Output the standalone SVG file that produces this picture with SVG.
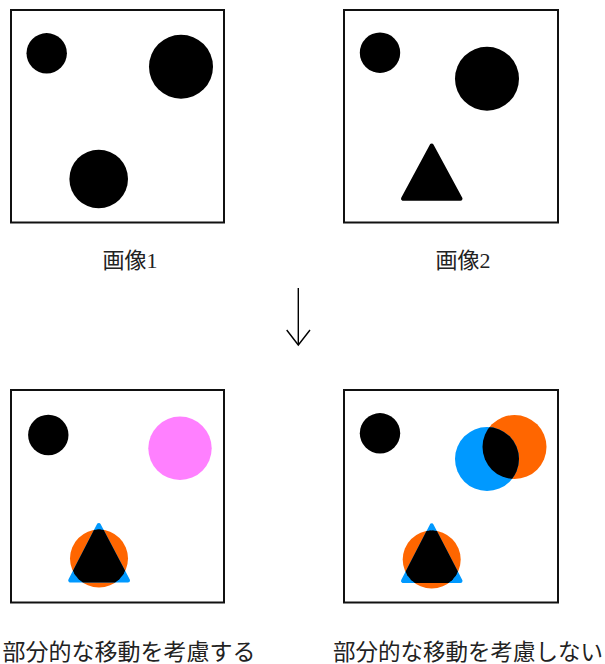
<svg xmlns="http://www.w3.org/2000/svg" width="605" height="664" viewBox="0 0 605 664">
<style>
.frame{fill:#fff;stroke:#111;stroke-width:2}
.blk{fill:#000}
.tri{stroke-linejoin:round;stroke-width:4}
.lbl{font-family:"Liberation Serif","Noto Sans CJK JP",serif;fill:#222;text-anchor:middle}
.org{fill:#ff6600}
.blu{fill:#0099ff}
</style>
<defs>
<clipPath id="c3"><circle cx="99" cy="558.5" r="29"/></clipPath>
<clipPath id="c4t"><circle cx="431.7" cy="559.5" r="29"/></clipPath>
<clipPath id="c4c"><circle cx="514.5" cy="447" r="32"/></clipPath>
</defs>
<rect width="605" height="664" fill="#fff"/>

<g id="image1">
<rect class="frame" x="11" y="10" width="213" height="212.5"/>
<circle class="blk" cx="46.7" cy="53.3" r="20.2"/>
<circle class="blk" cx="181" cy="66.7" r="32"/>
<circle class="blk" cx="98.7" cy="179" r="29.3"/>
</g>

<g id="image2">
<rect class="frame" x="344" y="10" width="214" height="212.5"/>
<circle class="blk" cx="380" cy="52.7" r="20.2"/>
<circle class="blk" cx="487" cy="78.7" r="32"/>
<polygon class="blk tri" stroke="#000" points="431.7,145.5 403,198.7 460.5,198.7"/>
</g>

<g id="label1"><text class="lbl" x="130" y="268" font-size="22">画像1</text></g>
<g id="label2"><text class="lbl" x="463" y="268" font-size="22">画像2</text></g>

<g id="connectors">
<line x1="298.3" y1="288" x2="298.3" y2="344.5" stroke="#000" stroke-width="1.4"/>
<polyline points="286.7,330 298.3,345 310,330" fill="none" stroke="#000" stroke-width="1.4"/>
</g>

<g id="result1">
<rect class="frame" x="11" y="390" width="213" height="212.5"/>
<circle class="blk" cx="48.3" cy="435" r="20.2"/>
<circle cx="180" cy="448.3" r="31.7" fill="#ff80ff"/>
<circle class="org" cx="99" cy="558.5" r="29"/>
<polygon class="blu tri" stroke="#0099ff" points="98.8,525 70.2,580.5 128,580.5"/>
<g clip-path="url(#c3)">
<polygon class="blk tri" stroke="#000" points="98.8,525 70.2,580.5 128,580.5"/>
</g>
</g>

<g id="result2">
<rect class="frame" x="344" y="390" width="214" height="212.5"/>
<circle class="blk" cx="380" cy="433.3" r="20.2"/>
<circle class="org" cx="514.5" cy="447" r="32"/>
<circle class="blu" cx="487" cy="459" r="32"/>
<circle class="blk" cx="487" cy="459" r="32" clip-path="url(#c4c)"/>
<circle class="org" cx="431.7" cy="559.5" r="29"/>
<polygon class="blu tri" stroke="#0099ff" points="431.7,525.3 403,581 460.5,581"/>
<g clip-path="url(#c4t)">
<polygon class="blk tri" stroke="#000" points="431.7,525.3 403,581 460.5,581"/>
</g>
</g>

<g id="caption1"><text class="lbl" x="129" y="660" font-size="23">部分的な移動を考慮する</text></g>
<g id="caption2"><text class="lbl" x="468" y="660" font-size="22.5">部分的な移動を考慮しない</text></g>
</svg>
